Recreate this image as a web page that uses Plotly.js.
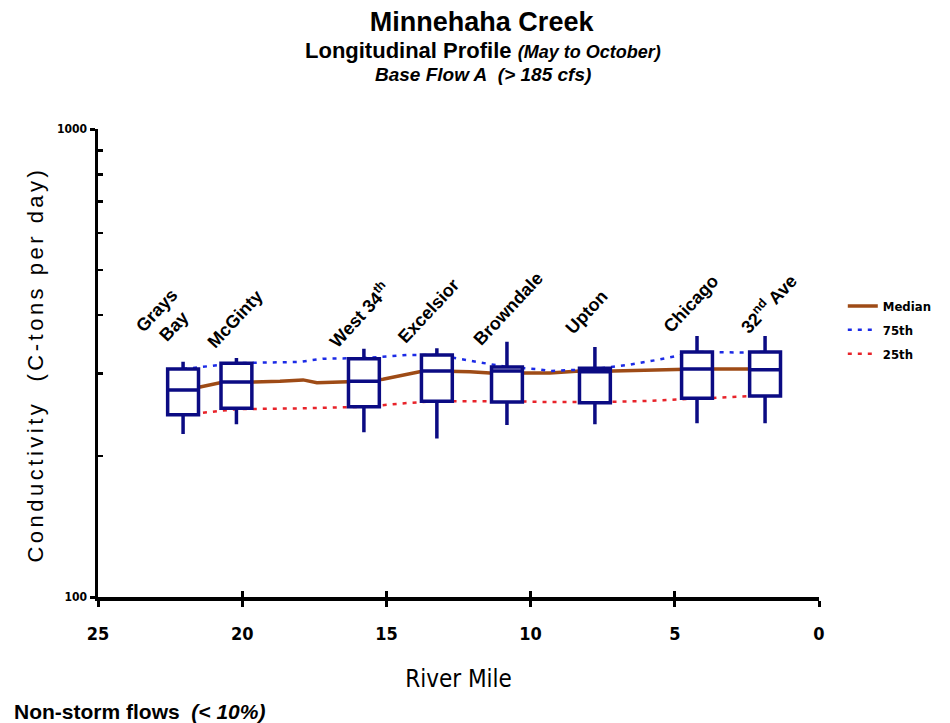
<!DOCTYPE html>
<html>
<head>
<meta charset="utf-8">
<script src="https://cdn.plot.ly/plotly-3.0.1.min.js"></script>
<style>
  html, body { margin: 0; padding: 0; background: #ffffff; }
  #chart { width: 950px; height: 723px; }
</style>
</head>
<body>
<div id="chart"></div>
<script>
// ---------- data ----------
const stationNames = ['Grays<br>Bay', 'McGinty', 'West 34<sup>th</sup>', 'Excelsior',
                      'Browndale', 'Upton', 'Chicago', '32<sup>nd</sup> Ave'];
const stationMile   = [22.05, 20.2, 15.78, 13.25, 10.82, 7.77, 4.23, 1.87];
const upperWhisker  = [318, 324, 339, 340, 351, 342, 361, 361];
const q3Values      = [307, 316, 323, 329, 310, 308, 334, 334];
const medianValues  = [277, 288, 289, 304, 304, 303, 307, 306];
const q1Values      = [245, 253, 255, 262, 261, 260, 266, 269];
const lowerWhisker  = [223, 234, 225, 218, 233, 234, 235, 235];

const medianLineMile  = [22.05, 21.46, 20.77, 20.21, 19.66, 18.69, 17.89, 17.41, 16.37, 15.78,
                         15.12, 13.85, 13.25, 12.10, 11.41, 10.82, 10.26, 9.33, 8.29, 7.77,
                         7.14, 5.62, 4.23, 1.87];
const medianLineValue = [277, 281, 287, 288, 288, 289, 291, 287, 289, 289,
                         292, 303, 304, 303, 301, 304, 301, 301, 304, 303,
                         304, 305, 307, 307];

const p75LineMile  = [22.05, 20.21, 18.0, 17.2, 15.78, 14.29, 13.25, 12.2, 10.82, 9.78,
                      9.33, 7.77, 6.66, 5.62, 4.23, 2.74, 1.87];
const p75LineValue = [307, 316, 318, 323, 324, 329, 329, 321, 310, 307,
                      304, 307, 313, 321, 334, 333, 334];

const p25LineMile  = [22.05, 20.21, 18.0, 15.78, 14.18, 13.25, 12.27, 10.82, 9.33, 7.77,
                      6.2, 4.23, 2.74, 1.87];
const p25LineValue = [245, 252, 253, 255, 260, 262, 262, 262, 261, 261,
                      262, 265, 268, 270];

const xTickVals   = [25, 20, 15, 10, 5, 0];
const yTickVals   = [100, 1000];
const yTickText   = ['100', '1000'];
const yMinorVals  = [200, 300, 400, 500, 600, 700, 800, 900, 1000];

// ---------- styles ----------
const ARIAL  = 'Liberation Sans, Arial, sans-serif';
const NARROW = 'DejaVu Sans Condensed, Liberation Sans Narrow, Arial Narrow, sans-serif';
const NAVY = '#0B0B83', BROWN = '#9E4B16', BLUE = '#1C2BE6', RED = '#E8232A';
// pixel nudges for the rotated station labels [dx, dy]
const labelNudge = [[-18, 7], [-1, 3], [-4, -6], [-8, -2], [1, -10], [-8, 6], [-6, -4], [3, -4]];

const traces = [
  { type: 'scatter', mode: 'lines', name: 'Median', x: medianLineMile, y: medianLineValue,
    line: { color: BROWN, width: 3.5 }, xaxis: 'x', yaxis: 'y', hoverinfo: 'skip',
    legendgroup: 'a' },
  { type: 'scatter', mode: 'lines', name: '75th', x: p75LineMile, y: p75LineValue,
    line: { color: BLUE, width: 2.5, dash: '4px,6px' }, xaxis: 'x', yaxis: 'y', hoverinfo: 'skip',
    legendgroup: 'b' },
  { type: 'scatter', mode: 'lines', name: '25th', x: p25LineMile, y: p25LineValue,
    line: { color: RED, width: 2.5, dash: '4px,6px' }, xaxis: 'x', yaxis: 'y', hoverinfo: 'skip',
    legendgroup: 'c' },
  { type: 'box', x: stationMile, q1: q1Values, median: medianValues, q3: q3Values,
    lowerfence: lowerWhisker, upperfence: upperWhisker, width: 1.07,
    line: { color: NAVY, width: 3.5 }, fillcolor: '#ffffff', whiskerwidth: 0,
    boxpoints: false, showlegend: false, hoverinfo: 'skip', xaxis: 'x2', yaxis: 'y2' }
];

const annotations = stationNames.map((name, i) => ({
  text: '<b>' + name + '</b>', x: stationMile[i], y: Math.log10(upperWhisker[i]),
  xref: 'x', yref: 'y', xanchor: 'center', yanchor: 'bottom', showarrow: false,
  textangle: -47, xshift: labelNudge[i][0], yshift: labelNudge[i][1],
  font: { family: ARIAL, size: 18, color: '#000' }
}));

annotations.push(
  { text: '<b>Longitudinal Profile</b> <b><i><span style="font-size:18px">(May to October)</span></i></b>',
    xref: 'paper', yref: 'paper', x: 0.534, y: 1.1678, xanchor: 'center', yanchor: 'middle',
    showarrow: false, font: { family: ARIAL, size: 22, color: '#000' } },
  { text: '<b><i>Base Flow A&nbsp;&nbsp;(&gt; 185 cfs)</i></b>',
    xref: 'paper', yref: 'paper', x: 0.534, y: 1.1175, xanchor: 'center', yanchor: 'middle',
    showarrow: false, font: { family: ARIAL, size: 19, color: '#000' } },
  { text: '<b>Non-storm flows&nbsp;&nbsp;<i>(&lt; 10%)</i></b>',
    xref: 'paper', yref: 'paper', x: -0.119, y: -0.244, xanchor: 'left', yanchor: 'middle',
    showarrow: false, font: { family: ARIAL, size: 21, color: '#000' } },
  { text: '<span style="letter-spacing:3.5px">Conductivity&nbsp;&nbsp;(C-tons per day)</span>',
    xref: 'paper', yref: 'paper', x: -0.088, y: 0.4957, xanchor: 'center', yanchor: 'middle',
    textangle: -90, showarrow: false, font: { family: ARIAL, size: 22, color: '#000' } }
);

const layout = {
  width: 950, height: 723,
  margin: { l: 98, r: 131, t: 129, b: 126, pad: 0, autoexpand: false },
  paper_bgcolor: '#ffffff', plot_bgcolor: '#ffffff',
  title: { text: '<b>Minnehaha Creek</b>', xref: 'container', yref: 'container',
           x: 0.507, y: 0.9703, xanchor: 'center', yanchor: 'middle',
           font: { family: ARIAL, size: 27, color: '#000' } },
  showlegend: true,
  legend: { x: 1.033, y: 0.654, xanchor: 'left', yanchor: 'top', bgcolor: 'rgba(0,0,0,0)',
            font: { family: NARROW, size: 13, color: '#000', weight: 'bold' },
            tracegroupgap: 4, traceorder: 'grouped' },
  xaxis: { range: [25, 0], showgrid: false, zeroline: false, showline: true, linecolor: '#000',
           linewidth: 3.5, ticks: 'outside', ticklen: 6, tickwidth: 3, tickcolor: '#000',
           tickvals: xTickVals, ticklabelstandoff: 12,
           tickfont: { family: NARROW, size: 18, color: '#000', weight: 'bold' },
           title: { text: 'River Mile', standoff: 28,
                    font: { family: NARROW, size: 24, color: '#000' } },
           fixedrange: true },
  yaxis: { type: 'log', range: [2, 3], showgrid: false, zeroline: false, showline: true,
           linecolor: '#000', linewidth: 3.5, ticks: 'outside', ticklen: 5, tickwidth: 3,
           tickcolor: '#000', tickvals: yTickVals, ticktext: yTickText,
           tickfont: { family: NARROW, size: 12, color: '#000', weight: 'bold' },
           fixedrange: true },
  xaxis2: { overlaying: 'x', range: [25, 0], showgrid: false, zeroline: false, showline: false,
            ticks: 'inside', ticklen: 6, tickwidth: 3, tickcolor: '#000', tickvals: xTickVals,
            showticklabels: false, side: 'bottom', fixedrange: true },
  yaxis2: { overlaying: 'y', type: 'log', range: [2, 3], showgrid: false, zeroline: false,
            showline: false, ticks: 'inside', ticklen: 5, tickwidth: 2.5, tickcolor: '#000',
            tickvals: yMinorVals, showticklabels: false, side: 'left', fixedrange: true },
  annotations: annotations
};

Plotly.newPlot('chart', traces, layout, { displayModeBar: false, staticPlot: true });
</script>
</body>
</html>
